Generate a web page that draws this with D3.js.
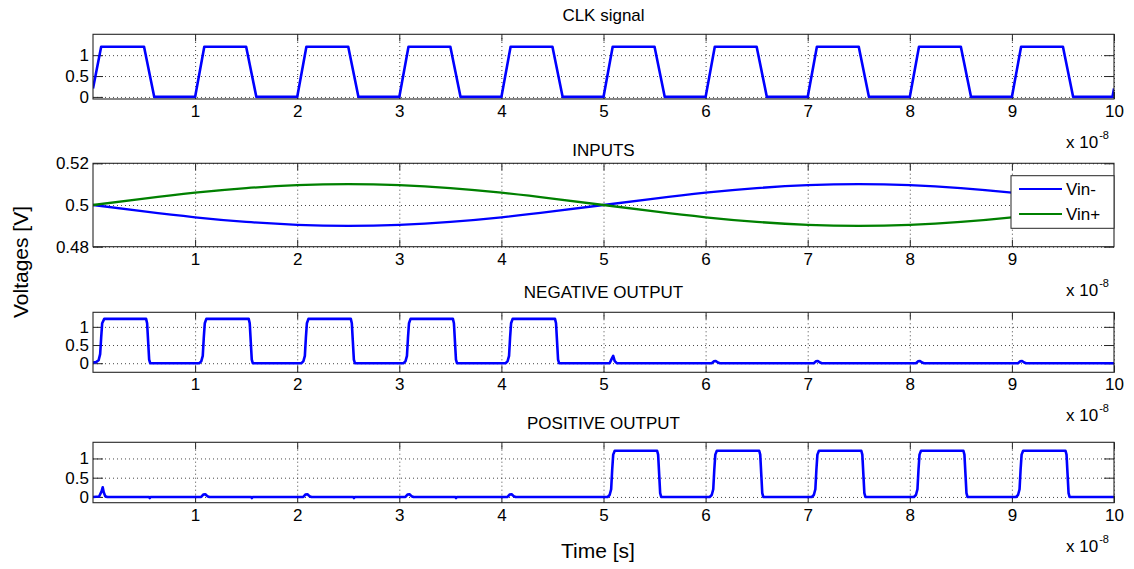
<!DOCTYPE html>
<html><head><meta charset="utf-8">
<script src="https://cdn.jsdelivr.net/npm/d3@7/dist/d3.min.js"></script>
<style>body{margin:0;background:#fff}svg{display:block}</style>
</head><body><svg id="c" width="1134" height="569"></svg>
<script>
// ---------- data ----------
const titles = ["CLK signal", "INPUTS", "NEGATIVE OUTPUT", "POSITIVE OUTPUT"];
const xTickValues = [1, 2, 3, 4, 5, 6, 7, 8, 9, 10];
const xTickValuesInputs = [1, 2, 3, 4, 5, 6, 7, 8, 9];
const yTicksLogic = [0, 0.5, 1];
const yTicksInputs = [0.48, 0.5, 0.52];
const xLabel = "Time [s]";
const yLabel = "Voltages [V]";
const xExponent = "-8";
const legendLabels = ["Vin-", "Vin+"];

// CLK signal: [time (x1e-8 s), V]
const clkData = [
  [0,0.2],[0.08,1.2],[0.5,1.2],[0.6,0],
  [1,0],[1.09,1.2],[1.5,1.2],[1.6,0],
  [2,0],[2.09,1.2],[2.5,1.2],[2.6,0],
  [3,0],[3.09,1.2],[3.5,1.2],[3.6,0],
  [4,0],[4.09,1.2],[4.5,1.2],[4.6,0],
  [5,0],[5.09,1.2],[5.5,1.2],[5.6,0],
  [6,0],[6.09,1.2],[6.5,1.2],[6.6,0],
  [7,0],[7.09,1.2],[7.5,1.2],[7.6,0],
  [8,0],[8.09,1.2],[8.5,1.2],[8.6,0],
  [9,0],[9.09,1.2],[9.5,1.2],[9.6,0],
  [9.985,0],[10,0.2]
];

// Inputs
const vinTime  = [0,0.5,1,1.5,2,2.5,3,3.5,4,4.5,5,5.5,6,6.5,7,7.5,8,8.5,9,9.5,10];
const vinMinus = [0.5,0.4969,0.4941,0.4919,0.4905,0.49,0.4905,0.4919,0.4941,0.4969,0.5,0.5031,0.5059,0.5081,0.5095,0.51,0.5095,0.5081,0.5059,0.5031,0.5];
const vinPlus  = [0.5,0.5031,0.5059,0.5081,0.5095,0.51,0.5095,0.5081,0.5059,0.5031,0.5,0.4969,0.4941,0.4919,0.4905,0.49,0.4905,0.4919,0.4941,0.4969,0.5];

// Negative output
const negOutData = [
  [0,0.02],[0.03,0.03],[0.055,0.08],[0.07,0.25],[0.08,0.7],[0.09,1.1],[0.11,1.22],[0.52,1.22],[0.53,1.1],[0.54,0.6],[0.55,0.1],[0.56,0],
  [1.04,0],[1.06,0.05],[1.075,0.2],[1.085,0.7],[1.095,1.1],[1.11,1.22],[1.525,1.22],[1.535,1.1],[1.545,0.6],[1.555,0.1],[1.565,0],
  [2.04,0],[2.06,0.05],[2.075,0.2],[2.085,0.7],[2.095,1.1],[2.11,1.22],[2.525,1.22],[2.535,1.1],[2.545,0.6],[2.555,0.1],[2.565,0],
  [3.04,0],[3.06,0.05],[3.075,0.2],[3.085,0.7],[3.095,1.1],[3.11,1.22],[3.525,1.22],[3.535,1.1],[3.545,0.6],[3.555,0.1],[3.565,0],
  [4.04,0],[4.06,0.05],[4.075,0.2],[4.085,0.7],[4.095,1.1],[4.11,1.22],[4.525,1.22],[4.535,1.1],[4.545,0.6],[4.555,0.1],[4.565,0],
  [5.06,0],[5.08,0.12],[5.095,0.2],[5.11,0.06],[5.13,0],
  [6.06,0],[6.08,0.05],[6.1,0.06],[6.12,0.02],[6.14,0],
  [7.06,0],[7.08,0.05],[7.1,0.06],[7.12,0.02],[7.14,0],
  [8.06,0],[8.08,0.05],[8.1,0.06],[8.12,0.02],[8.14,0],
  [9.06,0],[9.08,0.05],[9.1,0.06],[9.12,0.02],[9.14,0],
  [10,0]
];

// Positive output
const posOutData = [
  [0,0],[0.06,0.01],[0.085,0.15],[0.095,0.25],[0.105,0.12],[0.12,0.02],[0.14,0],[0.55,0],[0.555,-0.03],[0.565,0],
  [1.06,0],[1.08,0.06],[1.1,0.07],[1.12,0.02],[1.14,0],[1.55,0],[1.555,-0.03],[1.565,0],
  [2.06,0],[2.08,0.06],[2.1,0.07],[2.12,0.02],[2.14,0],[2.55,0],[2.555,-0.03],[2.565,0],
  [3.06,0],[3.08,0.06],[3.1,0.07],[3.12,0.02],[3.14,0],[3.55,0],[3.555,-0.03],[3.565,0],
  [4.06,0],[4.08,0.06],[4.1,0.07],[4.12,0.02],[4.14,0],
  [5.04,0],[5.06,0.05],[5.075,0.2],[5.085,0.7],[5.095,1.1],[5.11,1.2],[5.525,1.2],[5.535,1.1],[5.545,0.6],[5.555,0.1],[5.565,0],
  [6.04,0],[6.06,0.05],[6.075,0.2],[6.085,0.7],[6.095,1.1],[6.11,1.2],[6.525,1.2],[6.535,1.1],[6.545,0.6],[6.555,0.1],[6.565,0],
  [7.04,0],[7.06,0.05],[7.075,0.2],[7.085,0.7],[7.095,1.1],[7.11,1.2],[7.525,1.2],[7.535,1.1],[7.545,0.6],[7.555,0.1],[7.565,0],
  [8.04,0],[8.06,0.05],[8.075,0.2],[8.085,0.7],[8.095,1.1],[8.11,1.2],[8.525,1.2],[8.535,1.1],[8.545,0.6],[8.555,0.1],[8.565,0],
  [9.04,0],[9.06,0.05],[9.075,0.2],[9.085,0.7],[9.095,1.1],[9.11,1.2],[9.525,1.2],[9.535,1.1],[9.545,0.6],[9.555,0.1],[9.565,0],
  [10,0]
];

// ---------- layout / style ----------
const FONT = "'Liberation Sans', Arial, Helvetica, sans-serif";
const BLUE = "#0000ff", GREEN = "#008000", AXC = "#262626";
const X0 = 93, X1 = 1114;
const svg = d3.select("#c");
svg.append("rect").attr("width",1134).attr("height",569).attr("fill","#fff");

const panels = [
  {top:34.3, bottom:99, titleY:21, ydom:[-0.05,1.5], yticks:yTicksLogic, xticks:xTickValues,
   series:[{data:clkData, color:BLUE, w:2.6}]},
  {top:163.3, bottom:246.7, titleY:156, ydom:[0.48,0.52], yticks:yTicksInputs, xticks:xTickValuesInputs, legend:true,
   series:[{data:vinTime.map((t,i)=>[t,vinMinus[i]]), color:BLUE, w:2.3, smooth:true},
           {data:vinTime.map((t,i)=>[t,vinPlus[i]]), color:GREEN, w:2.3, smooth:true}]},
  {top:312.3, bottom:372.3, titleY:298, ydom:[-0.25,1.4], yticks:yTicksLogic, xticks:xTickValues,
   series:[{data:negOutData, color:BLUE, w:2.6}]},
  {top:442.3, bottom:502.7, titleY:429, ydom:[-0.15,1.42], yticks:yTicksLogic, xticks:xTickValues,
   series:[{data:posOutData, color:BLUE, w:2.6}]}
];

const fmtY = d => d3.format("")(+d.toFixed(2));

panels.forEach((p, pi) => {
  const x = d3.scaleLinear().domain([0,10]).range([X0, X1]);
  const y = d3.scaleLinear().domain(p.ydom).range([p.bottom, p.top]);
  const h = p.bottom - p.top, w = X1 - X0;
  const g = svg.append("g");

  const cid = "clip" + pi;
  svg.append("clipPath").attr("id", cid).append("rect")
    .attr("x", X0).attr("y", p.top).attr("width", w).attr("height", h);

  // grid
  const gx = g.append("g").attr("transform", `translate(0,${p.bottom})`)
    .call(d3.axisBottom(x).tickValues(p.xticks).tickSize(-h).tickFormat(""));
  const gy = g.append("g").attr("transform", `translate(${X0},0)`)
    .call(d3.axisLeft(y).tickValues(p.yticks).tickSize(-w).tickFormat(""));
  [gx, gy].forEach(s => {
    s.select(".domain").remove();
    s.selectAll("line").attr("stroke", "#333").attr("stroke-dasharray", "1,3").attr("stroke-width", 0.9);
  });

  // inward ticks on all four sides
  const tickStyle = s => {
    s.select(".domain").remove();
    s.selectAll("line").attr("stroke", AXC).attr("stroke-width", 1);
    s.selectAll("text").attr("font-family", FONT).attr("font-size", 17).attr("fill", "#000");
  };
  g.append("g").attr("transform", `translate(0,${p.bottom})`)
    .call(d3.axisBottom(x).tickValues(p.xticks).tickSizeInner(-7).tickSizeOuter(0).tickPadding(6).tickFormat(d3.format("d")))
    .call(tickStyle);
  g.append("g").attr("transform", `translate(0,${p.top})`)
    .call(d3.axisTop(x).tickValues(p.xticks).tickSizeInner(-7).tickSizeOuter(0).tickFormat(""))
    .call(tickStyle);
  g.append("g").attr("transform", `translate(${X0},0)`)
    .call(d3.axisLeft(y).tickValues(p.yticks).tickSizeInner(-10).tickSizeOuter(0).tickPadding(4).tickFormat(fmtY))
    .call(tickStyle);
  g.append("g").attr("transform", `translate(${X1},0)`)
    .call(d3.axisRight(y).tickValues(p.yticks).tickSizeInner(-10).tickSizeOuter(0).tickFormat(""))
    .call(tickStyle);

  // data
  p.series.forEach(s => {
    const line = d3.line().x(d => x(d[0])).y(d => y(d[1]));
    if (s.smooth) line.curve(d3.curveNatural);
    g.append("path").datum(s.data).attr("clip-path", `url(#${cid})`)
      .attr("d", line).attr("fill", "none").attr("stroke", s.color)
      .attr("stroke-width", s.w).attr("stroke-linejoin", "round");
  });

  // box
  g.append("rect").attr("x", X0).attr("y", p.top).attr("width", w).attr("height", h)
    .attr("fill", "none").attr("stroke", AXC).attr("stroke-width", 1.1);

  // title
  g.append("text").attr("x", (X0 + X1) / 2).attr("y", p.titleY)
    .attr("text-anchor", "middle").attr("font-family", FONT).attr("font-size", 17)
    .text(titles[pi]);

  // exponent label
  const ex = g.append("text").attr("x", 1066).attr("y", p.bottom + 49)
    .attr("font-family", FONT).attr("font-size", 17);
  ex.append("tspan").text("x 10");
  ex.append("tspan").attr("font-size", 11).attr("dy", -9).attr("dx", 1).text(xExponent);

  // legend
  if (p.legend) {
    const lg = g.append("g");
    lg.append("rect").attr("x", 1011).attr("y", 175.7).attr("width", X1 - 1011).attr("height", 52.6)
      .attr("fill", "#fff").attr("stroke", AXC).attr("stroke-width", 1);
    p.series.forEach((s, i) => {
      const yy = 189 + i * 25;
      lg.append("line").attr("x1", 1019).attr("x2", 1062).attr("y1", yy).attr("y2", yy)
        .attr("stroke", s.color).attr("stroke-width", 2);
      lg.append("text").attr("x", 1066).attr("y", yy).attr("dy", "0.35em")
        .attr("font-family", FONT).attr("font-size", 17).text(legendLabels[i]);
    });
  }
});

// axis labels
svg.append("text").attr("transform", "translate(28,262) rotate(-90)")
  .attr("text-anchor", "middle").attr("font-family", FONT).attr("font-size", 21).text(yLabel);
svg.append("text").attr("x", 598).attr("y", 558)
  .attr("text-anchor", "middle").attr("font-family", FONT).attr("font-size", 21).text(xLabel);
</script>
</body></html>
